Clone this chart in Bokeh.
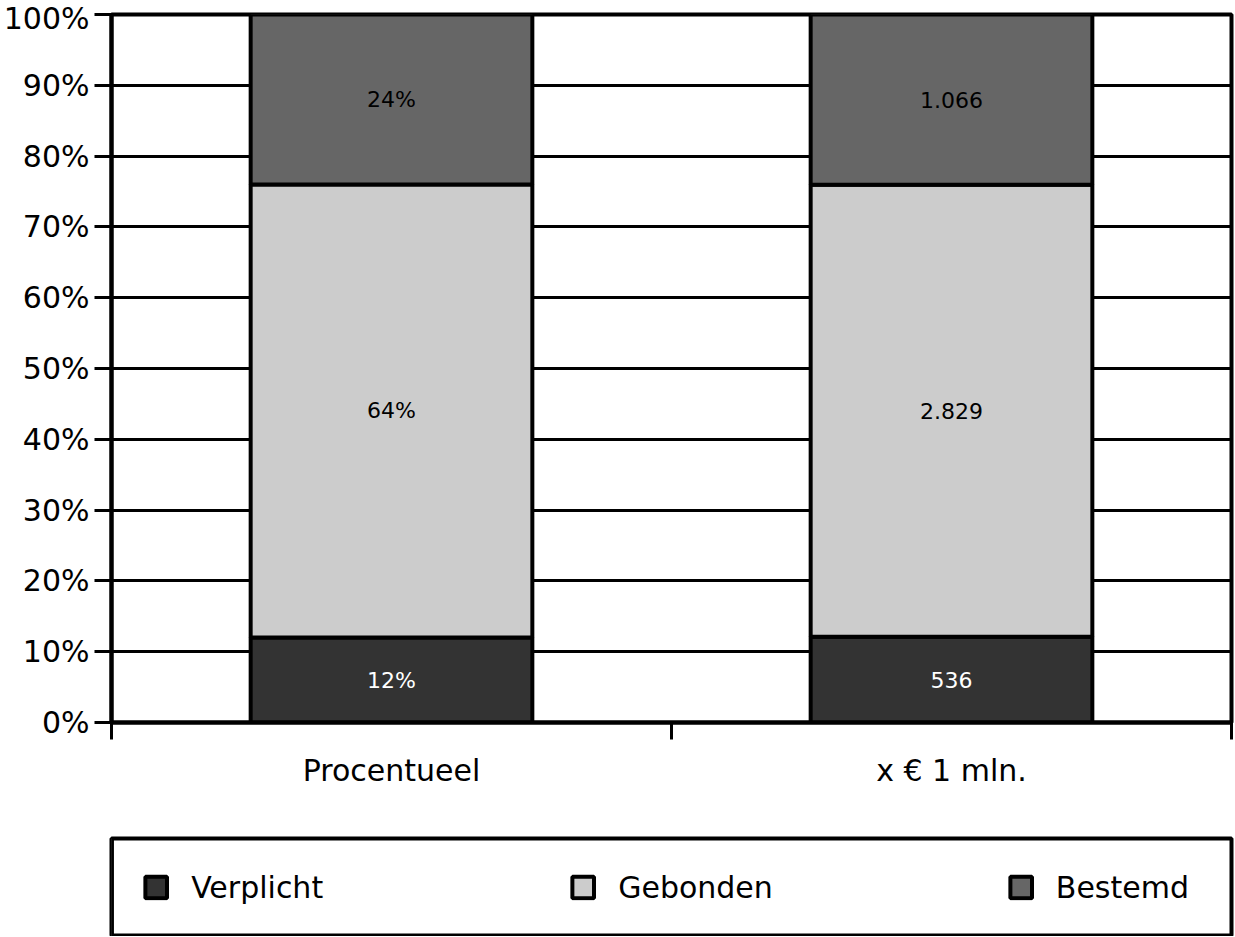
import numpy as np
from bokeh.plotting import figure
from bokeh.layouts import column
from bokeh.models import (ColumnDataSource, Range1d, FixedTicker, PrintfTickFormatter,
                          Legend, LegendItem)
from bokeh.core.properties import value
from bokeh.embed import file_html
from bokeh.resources import INLINE

# ---- data ----
categories = ["Procentueel", "x € 1 mln."]
series = ["Verplicht", "Gebonden", "Bestemd"]
verplicht = [12, 536]
gebonden = [64, 2829]
bestemd = [24, 1066]
label_suffix = ["%", ""]
colors = ["#333333", "#cccccc", "#666666"]
text_colors = ["#ffffff", "#000000", "#000000"]
y_ticks = list(range(0, 101, 10))

FONT = "DejaVu Sans"
LEFT = 111
FRAME_W = 1120

raw = np.array([verplicht, gebonden, bestemd], dtype=float)  # series x category
totals = raw.sum(axis=0)
shares = raw / totals * 100.0

xpos = [i + 0.5 for i in range(len(categories))]
data = {"x": xpos}
for name, row in zip(series, shares):
    data[name] = list(row)
src = ColumnDataSource(data)

p = figure(frame_width=FRAME_W, frame_height=708, x_range=Range1d(0, len(categories)),
           y_range=Range1d(0, 100), output_backend="svg", toolbar_location=None,
           min_border_left=LEFT, min_border_right=3, min_border_top=14,
           min_border_bottom=100, background_fill_color="white",
           border_fill_color="white", outline_line_color="black",
           outline_line_width=4)

renderers = p.vbar_stack(series, x="x", width=0.503, source=src, color=colors,
                         line_color="black", line_width=4)

# value labels
lx, ly, lt, lc = [], [], [], []
for ci, cat in enumerate(categories):
    base = 0.0
    for si in range(len(series)):
        s = shares[si, ci]
        v = int(raw[si, ci])
        txt = (f"{v:,}".replace(",", ".")) + label_suffix[ci]
        lx.append(xpos[ci]); ly.append(base + s / 2); lt.append(txt); lc.append(text_colors[si])
        base += s
lsrc = ColumnDataSource(dict(x=lx, y=ly, text=lt, color=lc))
p.text(x="x", y="y", text="text", text_color="color", source=lsrc,
       text_align="center", text_baseline="middle",
       text_font=value(FONT), text_font_size=value("22px"))

# y axis
p.yaxis.ticker = FixedTicker(ticks=y_ticks)
p.yaxis.formatter = PrintfTickFormatter(format="%d%%")
p.yaxis.axis_line_width = 4
p.yaxis.axis_line_color = "black"
p.yaxis.major_tick_out = 17
p.yaxis.major_tick_in = 0
p.yaxis.major_tick_line_width = 3
p.yaxis.major_tick_line_color = "black"
p.yaxis.minor_tick_line_color = None
p.yaxis.major_label_standoff = 5
p.yaxis.major_label_text_font = FONT
p.yaxis.major_label_text_font_size = "30px"
p.yaxis.major_label_text_color = "black"

# x axis: labels at category centres, ticks at boundaries
p.xaxis.ticker = FixedTicker(ticks=xpos, minor_ticks=list(range(len(categories) + 1)))
p.xaxis.major_label_overrides = {x: c for x, c in zip(xpos, categories)}
p.xaxis.axis_line_width = 4
p.xaxis.axis_line_color = "black"
p.xaxis.major_tick_out = 0
p.xaxis.major_tick_in = 0
p.xaxis.major_tick_line_color = None
p.xaxis.minor_tick_out = 17
p.xaxis.minor_tick_in = 0
p.xaxis.minor_tick_line_width = 3
p.xaxis.minor_tick_line_color = "black"
p.xaxis.major_label_standoff = 13
p.xaxis.major_label_text_font = FONT
p.xaxis.major_label_text_font_size = "30px"
p.xaxis.major_label_text_color = "black"

# grid
p.xgrid.grid_line_color = None
p.ygrid.ticker = FixedTicker(ticks=y_ticks)
p.ygrid.grid_line_color = "black"
p.ygrid.grid_line_width = 3

# ---- legend strip below the chart: its frame outline is the legend box ----
lg = figure(frame_width=FRAME_W, frame_height=98, x_range=Range1d(0, 1),
            y_range=Range1d(0, 1), output_backend="svg", toolbar_location=None,
            min_border_left=LEFT, min_border_right=3, min_border_top=16,
            min_border_bottom=0, background_fill_color="white",
            border_fill_color="white", outline_line_color="black",
            outline_line_width=4)
lg.axis.visible = False
lg.grid.grid_line_color = None
# key swatches: one bar per series placed outside the strip's visible range
key_src = ColumnDataSource(dict(x=[-5.0], top=[1.0]))
key_renderers = [lg.vbar(x="x", top="top", width=0.1, source=key_src, fill_color=c,
                         line_color="black", line_width=4) for c in colors]
items = [LegendItem(label=n, renderers=[r]) for n, r in zip(series, key_renderers)]
legend = Legend(items=items, orientation="horizontal", location="center",
                padding=8, margin=0, spacing=234, glyph_width=27, glyph_height=27,
                label_standoff=22, label_width=144,
                label_text_font=FONT, label_text_font_size="30px",
                label_text_color="black", border_line_color=None,
                background_fill_alpha=0.0)
lg.add_layout(legend)

layout = column(p, lg, spacing=0)
open("out.html", "w").write(file_html(layout, INLINE))
